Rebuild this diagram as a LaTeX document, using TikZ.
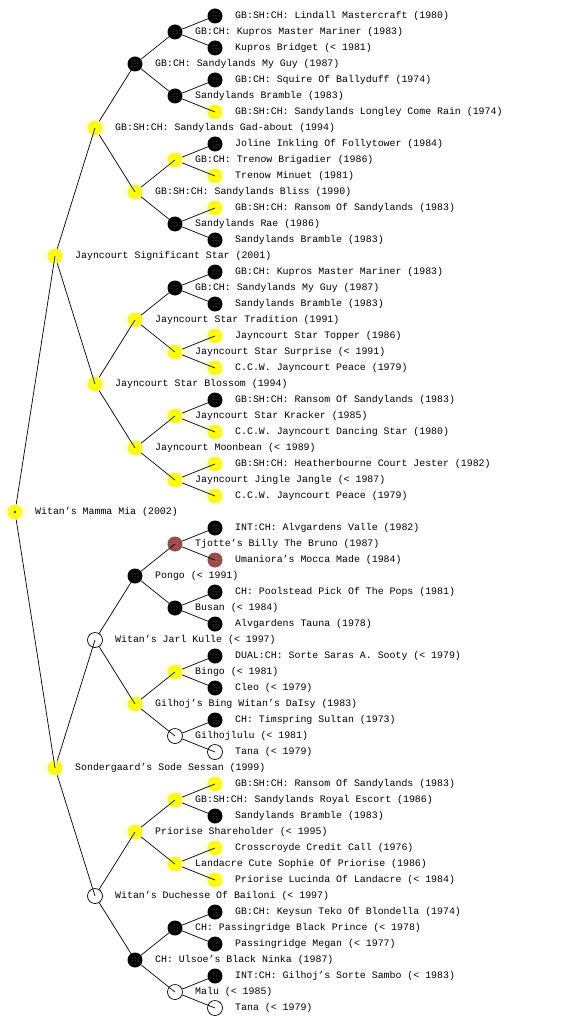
\documentclass[tikz,border=0pt]{standalone}
\usepackage{fontspec}
\setmonofont{Liberation Mono}
\usetikzlibrary{patterns}
\definecolor{ybl}{HTML}{FFFF00}
\definecolor{brn}{HTML}{9C4A44}
\tikzset{
  pnode/.style={circle, inner sep=0pt, minimum size=15pt},
  yel/.style={pnode, fill=ybl},
  blk/.style={pnode, fill=black, path picture={\fill[pattern=dots, pattern color=gray!70] (path picture bounding box.center) circle (4.5pt);}},
  brw/.style={pnode, fill=brn, path picture={\fill[pattern=dots, pattern color=white!60!brn] (path picture bounding box.center) circle (4.5pt);}},
  wht/.style={pnode, draw=black, line width=0.7pt, fill=white},
  lbl/.style={anchor=west, inner sep=0pt, font=\ttfamily\fontsize{9.9}{11}\selectfont, text height=7pt, text depth=2pt},
  edge/.style={draw=black, line width=0.7pt},
}
\newcommand\pn[5]{\node[#4] (#1) at (#2,#3) {}; \node[lbl] (#1-t) at (#2+20,#3) {#5};}
\begin{document}
\begin{tikzpicture}[x=1pt,y=-1pt]
\useasboundingbox (0,0) rectangle (560,1024);
% root
\pn{r}{15}{512}{yel}{Witan’s Mamma Mia (2002)}
% level 1
\pn{a0}{55}{256}{yel}{Jayncourt Significant Star (2001)}
\pn{a1}{55}{768}{yel}{Sondergaard’s Sode Sessan (1999)}
% level 2
\pn{b0}{95}{128}{yel}{GB:SH:CH: Sandylands Gad-about (1994)}
\pn{b1}{95}{384}{yel}{Jayncourt Star Blossom (1994)}
\pn{b2}{95}{640}{wht}{Witan’s Jarl Kulle (< 1997)}
\pn{b3}{95}{896}{wht}{Witan’s Duchesse Of Bailoni (< 1997)}
% level 3
\pn{c0}{135}{64}{blk}{GB:CH: Sandylands My Guy (1987)}
\pn{c1}{135}{192}{yel}{GB:SH:CH: Sandylands Bliss (1990)}
\pn{c2}{135}{320}{yel}{Jayncourt Star Tradition (1991)}
\pn{c3}{135}{448}{yel}{Jayncourt Moonbean (< 1989)}
\pn{c4}{135}{576}{blk}{Pongo (< 1991)}
\pn{c5}{135}{704}{yel}{Gilhoj’s Bing Witan’s DaIsy (1983)}
\pn{c6}{135}{832}{yel}{Priorise Shareholder (< 1995)}
\pn{c7}{135}{960}{blk}{CH: Ulsoe’s Black Ninka (1987)}
% level 4
\pn{d0}{175}{32}{blk}{GB:CH: Kupros Master Mariner (1983)}
\pn{d1}{175}{96}{blk}{Sandylands Bramble (1983)}
\pn{d2}{175}{160}{yel}{GB:CH: Trenow Brigadier (1986)}
\pn{d3}{175}{224}{blk}{Sandylands Rae (1986)}
\pn{d4}{175}{288}{blk}{GB:CH: Sandylands My Guy (1987)}
\pn{d5}{175}{352}{yel}{Jayncourt Star Surprise (< 1991)}
\pn{d6}{175}{416}{yel}{Jayncourt Star Kracker (1985)}
\pn{d7}{175}{480}{yel}{Jayncourt Jingle Jangle (< 1987)}
\pn{d8}{175}{544}{brw}{Tjotte’s Billy The Bruno (1987)}
\pn{d9}{175}{608}{blk}{Busan (< 1984)}
\pn{d10}{175}{672}{yel}{Bingo (< 1981)}
\pn{d11}{175}{736}{wht}{Gilhojlulu (< 1981)}
\pn{d12}{175}{800}{yel}{GB:SH:CH: Sandylands Royal Escort (1986)}
\pn{d13}{175}{864}{yel}{Landacre Cute Sophie Of Priorise (1986)}
\pn{d14}{175}{928}{blk}{CH: Passingridge Black Prince (< 1978)}
\pn{d15}{175}{992}{wht}{Malu (< 1985)}
% level 5
\pn{e0}{215}{16}{blk}{GB:SH:CH: Lindall Mastercraft (1980)}
\pn{e1}{215}{48}{blk}{Kupros Bridget (< 1981)}
\pn{e2}{215}{80}{blk}{GB:CH: Squire Of Ballyduff (1974)}
\pn{e3}{215}{112}{yel}{GB:SH:CH: Sandylands Longley Come Rain (1974)}
\pn{e4}{215}{144}{blk}{Joline Inkling Of Follytower (1984)}
\pn{e5}{215}{176}{yel}{Trenow Minuet (1981)}
\pn{e6}{215}{208}{yel}{GB:SH:CH: Ransom Of Sandylands (1983)}
\pn{e7}{215}{240}{blk}{Sandylands Bramble (1983)}
\pn{e8}{215}{272}{blk}{GB:CH: Kupros Master Mariner (1983)}
\pn{e9}{215}{304}{blk}{Sandylands Bramble (1983)}
\pn{e10}{215}{336}{yel}{Jayncourt Star Topper (1986)}
\pn{e11}{215}{368}{yel}{C.C.W. Jayncourt Peace (1979)}
\pn{e12}{215}{400}{blk}{GB:SH:CH: Ransom Of Sandylands (1983)}
\pn{e13}{215}{432}{yel}{C.C.W. Jayncourt Dancing Star (1980)}
\pn{e14}{215}{464}{yel}{GB:SH:CH: Heatherbourne Court Jester (1982)}
\pn{e15}{215}{496}{yel}{C.C.W. Jayncourt Peace (1979)}
\pn{e16}{215}{528}{blk}{INT:CH: Alvgardens Valle (1982)}
\pn{e17}{215}{560}{brw}{Umaniora’s Mocca Made (1984)}
\pn{e18}{215}{592}{blk}{CH: Poolstead Pick Of The Pops (1981)}
\pn{e19}{215}{624}{blk}{Alvgardens Tauna (1978)}
\pn{e20}{215}{656}{blk}{DUAL:CH: Sorte Saras A. Sooty (< 1979)}
\pn{e21}{215}{688}{blk}{Cleo (< 1979)}
\pn{e22}{215}{720}{blk}{CH: Timspring Sultan (1973)}
\pn{e23}{215}{752}{wht}{Tana (< 1979)}
\pn{e24}{215}{784}{yel}{GB:SH:CH: Ransom Of Sandylands (1983)}
\pn{e25}{215}{816}{blk}{Sandylands Bramble (1983)}
\pn{e26}{215}{848}{yel}{Crosscroyde Credit Call (1976)}
\pn{e27}{215}{880}{yel}{Priorise Lucinda Of Landacre (< 1984)}
\pn{e28}{215}{912}{blk}{GB:CH: Keysun Teko Of Blondella (1974)}
\pn{e29}{215}{944}{blk}{Passingridge Megan (< 1977)}
\pn{e30}{215}{976}{blk}{INT:CH: Gilhoj’s Sorte Sambo (< 1983)}
\pn{e31}{215}{1008}{wht}{Tana (< 1979)}
% edges
\draw[edge] (r) -- (a0.center);
\draw[edge] (r) -- (a1.center);
\foreach \i in {0,...,3}{\pgfmathtruncatemacro\p{floor(\i/2)}\draw[edge] (a\p) -- (b\i.center);}
\foreach \i in {0,...,7}{\pgfmathtruncatemacro\p{floor(\i/2)}\draw[edge] (b\p) -- (c\i.center);}
\foreach \i in {0,...,15}{\pgfmathtruncatemacro\p{floor(\i/2)}\draw[edge] (c\p) -- (d\i.center);}
\foreach \i in {0,...,31}{\pgfmathtruncatemacro\p{floor(\i/2)}\draw[edge] (d\p) -- (e\i.center);}
\fill[black] (r.center) circle (1.2pt);
\end{tikzpicture}
\end{document}
